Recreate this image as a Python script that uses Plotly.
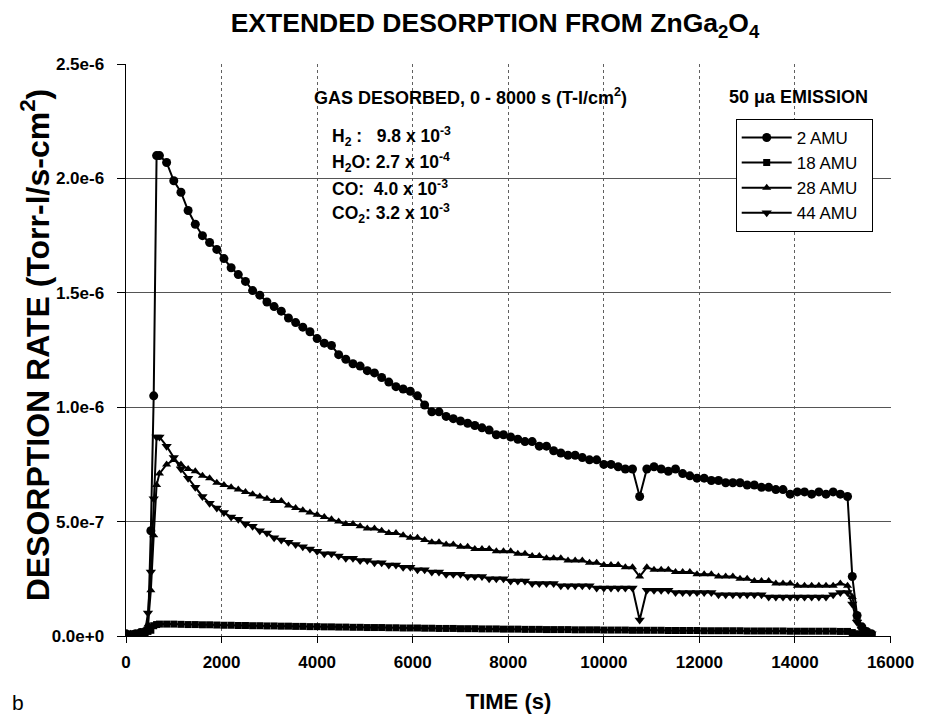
import plotly.graph_objects as go

# ---------------- data (rates in units of 1e-7 Torr-l/s-cm^2) ----------------
time_s = [0, 100, 200, 300, 400, 460, 520, 580, 640,
          700, 850, 1000, 1150, 1300, 1450, 1600, 1750, 1900, 2050,
          2200, 2350, 2500, 2650, 2800, 2950, 3100, 3250, 3400, 3550,
          3700, 3850, 4000, 4150, 4300, 4450, 4600, 4750, 4900, 5050,
          5200, 5350, 5500, 5650, 5800, 5950, 6100, 6250, 6400, 6550,
          6700, 6850, 7000, 7150, 7300, 7450, 7600, 7750, 7900, 8050,
          8200, 8350, 8500, 8650, 8800, 8950, 9100, 9250, 9400, 9550,
          9700, 9850, 10000, 10150, 10300, 10450, 10600, 10750, 10900, 11050,
          11200, 11350, 11500, 11650, 11800, 11950, 12100, 12250, 12400, 12550,
          12700, 12850, 13000, 13150, 13300, 13450, 13600, 13750, 13900, 14050,
          14200, 14350, 14500, 14650, 14800, 14950, 15100,
          15200, 15300, 15400, 15500, 15600]

amu2 = [0.1, 0.05, 0.1, 0.15, 0.2, 0.3, 4.6, 10.5, 21.0,
        21.0, 20.7, 19.9, 19.4, 18.6, 18.0, 17.5, 17.2, 16.9, 16.5,
        16.1, 15.8, 15.5, 15.1, 14.9, 14.6, 14.4, 14.2, 13.9, 13.7,
        13.5, 13.3, 13.0, 12.8, 12.7, 12.3, 12.1, 11.9, 11.8, 11.6,
        11.5, 11.3, 11.1, 10.9, 10.8, 10.7, 10.5, 10.1, 9.8, 9.8,
        9.6, 9.5, 9.4, 9.3, 9.2, 9.1, 9.0, 8.8, 8.8, 8.7,
        8.6, 8.5, 8.5, 8.3, 8.3, 8.1, 8.0, 7.9, 7.9, 7.8,
        7.7, 7.7, 7.5, 7.5, 7.4, 7.3, 7.3, 6.1, 7.3, 7.4,
        7.3, 7.2, 7.3, 7.1, 7.0, 6.9, 6.9, 6.8, 6.8, 6.7,
        6.7, 6.7, 6.6, 6.6, 6.5, 6.5, 6.4, 6.4, 6.2, 6.3,
        6.3, 6.2, 6.3, 6.2, 6.3, 6.2, 6.1,
        2.6, 0.9, 0.4, 0.2, 0.1]

amu18 = [0.0, 0.05, 0.1, 0.08, 0.15, 0.2, 0.25, 0.45, 0.5,
         0.52, 0.52, 0.52, 0.51, 0.5, 0.5, 0.49, 0.49, 0.48, 0.47,
         0.47, 0.46, 0.46, 0.45, 0.45, 0.44, 0.44, 0.43, 0.43, 0.42,
         0.42, 0.41, 0.41, 0.40, 0.40, 0.39, 0.39, 0.38, 0.38, 0.37,
         0.37, 0.37, 0.36, 0.36, 0.35, 0.35, 0.35, 0.34, 0.34, 0.33,
         0.33, 0.33, 0.32, 0.32, 0.32, 0.31, 0.31, 0.31, 0.30, 0.30,
         0.30, 0.29, 0.29, 0.29, 0.28, 0.28, 0.28, 0.28, 0.27, 0.27,
         0.27, 0.27, 0.26, 0.26, 0.26, 0.26, 0.25, 0.25, 0.25, 0.25,
         0.25, 0.24, 0.24, 0.24, 0.24, 0.24, 0.23, 0.23, 0.23, 0.23,
         0.23, 0.23, 0.22, 0.22, 0.22, 0.22, 0.22, 0.22, 0.21, 0.21,
         0.21, 0.21, 0.21, 0.21, 0.21, 0.20, 0.20,
         0.15, 0.1, 0.06, 0.03, 0.02]

amu28 = [0.05, 0.1, 0.1, 0.15, 0.2, 0.5, 2.0, 4.4, 6.6,
         7.1, 7.5, 7.7, 7.5, 7.3, 7.2, 7.0, 6.9, 6.7, 6.6,
         6.5, 6.4, 6.3, 6.2, 6.1, 6.0, 5.9, 5.9, 5.7, 5.6,
         5.5, 5.4, 5.3, 5.2, 5.1, 5.0, 4.9, 4.9, 4.8, 4.7,
         4.7, 4.6, 4.5, 4.5, 4.4, 4.3, 4.3, 4.2, 4.1, 4.1,
         4.0, 4.0, 3.9, 3.9, 3.8, 3.8, 3.8, 3.7, 3.7, 3.7,
         3.6, 3.6, 3.5, 3.5, 3.4, 3.4, 3.4, 3.3, 3.3, 3.3,
         3.2, 3.2, 3.1, 3.1, 3.1, 3.0, 3.0, 2.6, 3.0, 2.9,
         2.9, 2.9, 2.8, 2.8, 2.8, 2.7, 2.7, 2.7, 2.6, 2.6,
         2.6, 2.5, 2.5, 2.4, 2.4, 2.4, 2.3, 2.3, 2.3, 2.2,
         2.2, 2.2, 2.2, 2.2, 2.2, 2.3, 2.2,
         1.7, 0.8, 0.4, 0.2, 0.1]

amu44 = [0.05, 0.1, 0.05, 0.1, 0.2, 1.0, 2.8, 6.0, 8.7,
         8.7, 8.3, 7.8, 7.3, 6.9, 6.5, 6.1, 5.8, 5.6, 5.4,
         5.2, 5.1, 4.9, 4.8, 4.6, 4.5, 4.3, 4.2, 4.1, 4.0,
         3.9, 3.8, 3.7, 3.6, 3.6, 3.5, 3.4, 3.4, 3.3, 3.3,
         3.2, 3.2, 3.1, 3.1, 3.0, 3.0, 2.9, 2.9, 2.8, 2.8,
         2.7, 2.7, 2.7, 2.6, 2.6, 2.6, 2.5, 2.5, 2.5, 2.4,
         2.4, 2.4, 2.3, 2.3, 2.3, 2.3, 2.2, 2.2, 2.2, 2.2,
         2.2, 2.1, 2.1, 2.1, 2.1, 2.1, 2.1, 0.7, 2.0, 2.0,
         2.0, 2.0, 1.9, 1.9, 1.9, 1.9, 1.9, 1.9, 1.8, 1.8,
         1.8, 1.8, 1.8, 1.8, 1.8, 1.7, 1.7, 1.7, 1.7, 1.7,
         1.7, 1.7, 1.7, 1.7, 1.8, 1.9, 1.9,
         1.4, 0.6, 0.3, 0.15, 0.1]

series_names = ["2 AMU", "18 AMU", "28 AMU", "44 AMU"]
x_ticks = [0, 2000, 4000, 6000, 8000, 10000, 12000, 14000, 16000]
y_ticks = [0, 5e-7, 1e-6, 1.5e-6, 2e-6, 2.5e-6]
y_tick_labels = ["0.0e+0", "5.0e-7", "1.0e-6", "1.5e-6", "2.0e-6", "2.5e-6"]

UNIT = 1e-7
FONT = "Liberation Sans, Arial, sans-serif"
PAD = "\u00a0\u00a0"

styles = [
    dict(symbol="circle", size=9),
    dict(symbol="square", size=7),
    dict(symbol="triangle-up", size=8),
    dict(symbol="triangle-down", size=9),
]

fig = go.Figure()
for name, vals, st in zip(series_names, [amu2, amu18, amu28, amu44], styles):
    fig.add_trace(go.Scatter(
        x=time_s, y=[v * UNIT for v in vals], name=name + PAD,
        mode="lines+markers",
        line=dict(color="black", width=2),
        marker=dict(color="black", symbol=st["symbol"], size=st["size"], line=dict(width=0)),
    ))

# page has an 8px body margin: figure is sized to fit the window
fig.update_layout(
    width=918, height=714,
    margin=dict(l=118, r=32, t=56, b=84),
    paper_bgcolor="white", plot_bgcolor="white",
    font=dict(family=FONT, color="black"),
    title=dict(text="<b>EXTENDED DESORPTION FROM ZnGa<sub>2</sub>O<sub>4</sub></b>",
               x=0.5305, xanchor="center", y=0.979, yanchor="middle",
               font=dict(size=26.5, family=FONT, color="black")),
    showlegend=True,
    legend=dict(x=0.797, y=0.904, xanchor="left", yanchor="top",
                bgcolor="white", bordercolor="black", borderwidth=1,
                font=dict(size=17, family=FONT, color="black"),
                itemwidth=50, tracegroupgap=0),
)

fig.update_xaxes(
    range=[0, 16010], tickvals=x_ticks, ticktext=[str(v) for v in x_ticks],
    tickfont=dict(size=17, family=FONT, weight="bold"),
    showline=True, linecolor="black", linewidth=1,
    ticks="outside", ticklen=6, tickcolor="black", ticklabelstandoff=5,
    showgrid=True, gridcolor="#606060", gridwidth=1, griddash="dot",
    zeroline=False,
    title=dict(text="<b>TIME (s)</b>", font=dict(size=22, family=FONT), standoff=22),
)
fig.update_yaxes(
    range=[0, 2.5005e-6], tickvals=y_ticks, ticktext=[t + PAD for t in y_tick_labels],
    tickfont=dict(size=17, family=FONT, weight="bold"),
    showline=True, linecolor="black", linewidth=1,
    ticks="outside", ticklen=8, tickcolor="black",
    showgrid=True, gridcolor="#555555", gridwidth=1,
    zeroline=False,
)

# y-axis title placed as a rotated annotation
fig.add_annotation(text="<b>DESORPTION RATE (Torr-l/s-cm<sup>2</sup>)</b>",
                   xref="paper", yref="paper", x=-0.1185, y=0.5087,
                   textangle=-90, showarrow=False, xanchor="center", yanchor="middle",
                   font=dict(family=FONT, size=32, color="black"))

ann_font = dict(family=FONT, size=18, color="black")
fig.add_annotation(text="<b>GAS DESORBED, 0 - 8000 s (T-l/cm<sup>2</sup>)</b>",
                   xref="paper", yref="paper", x=0.4505, y=0.9425,
                   showarrow=False, font=ann_font, xanchor="center", yanchor="middle")
fig.add_annotation(text="<b>50 \u03bca EMISSION</b>",
                   xref="paper", yref="paper", x=0.879, y=0.9425,
                   showarrow=False, font=ann_font, xanchor="center", yanchor="middle")

gas_lines = ["<b>H<sub>2</sub> :   9.8 x 10<sup>-3</sup></b>",
             "<b>H<sub>2</sub>O: 2.7 x 10<sup>-4</sup></b>",
             "<b>CO:  4.0 x 10<sup>-3</sup></b>",
             "<b>CO<sub>2</sub>: 3.2 x 10<sup>-3</sup></b>"]
for i, txt in enumerate(gas_lines):
    fig.add_annotation(text=txt, xref="paper", yref="paper",
                       x=0.267, y=0.8728 - i * 0.0445,
                       showarrow=False, xanchor="left", yanchor="middle",
                       font=dict(family=FONT, size=17.5, color="black"))

fig.add_annotation(text="b", xref="paper", yref="paper", x=-0.152, y=-0.1167,
                   showarrow=False, xanchor="left", yanchor="middle",
                   font=dict(family=FONT, size=21, color="black"))

fig.write_html("out.html")
